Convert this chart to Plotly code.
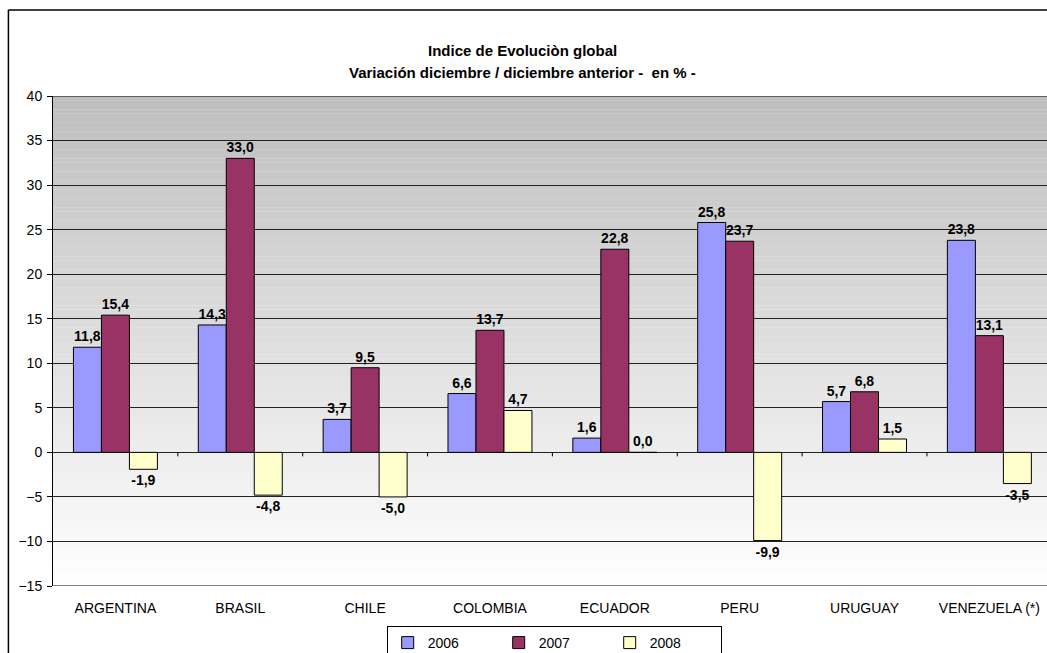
import plotly.graph_objects as go

# Data
countries = ["ARGENTINA", "BRASIL", "CHILE", "COLOMBIA", "ECUADOR", "PERU", "URUGUAY", "VENEZUELA (*)"]
v2006 = [11.8, 14.3, 3.7, 6.6, 1.6, 25.8, 5.7, 23.8]
v2007 = [15.4, 33.0, 9.5, 13.7, 22.8, 23.7, 6.8, 13.1]
v2008 = [-1.9, -4.8, -5.0, 4.7, 0.0, -9.9, 1.5, -3.5]
years = ["2006", "2007", "2008"]
y_ticks = [-15, -10, -5, 0, 5, 10, 15, 20, 25, 30, 35, 40]

series = [v2006, v2007, v2008]
colors = ["#9999FF", "#993366", "#FFFFCC"]
FONT = "Liberation Sans, Arial, sans-serif"

W, H = 1047, 653
L, T, B = 52.6, 96, 67
plot_w = W - L
plot_h = H - T - B
cat_w = 124.9
x_max = -0.5 + plot_w / cat_w
y_min, y_max = -15, 40


def fmt(v):
    return f"{v:.1f}".replace(".", ",")


fig = go.Figure()
for name, vals, col in zip(years, series, colors):
    fig.add_trace(go.Bar(
        x=list(range(len(countries))), y=vals, name=name,
        marker=dict(color=col, line=dict(color="black", width=1)),
        text=[fmt(v) for v in vals], textposition="outside",
        textfont=dict(family=FONT, size=14, color="black", weight="bold"),
        cliponaxis=False,
    ))

shapes = []
# vertical gray gradient behind the plot area
n = 110
step = (y_max - y_min) / n
for k in range(n):
    y0 = y_min + k * step
    frac = (k + 0.5) / n  # 0 at bottom, 1 at top
    g = round(255 - 65 * frac)
    shapes.append(dict(type="rect", xref="paper", yref="y", x0=0, x1=1,
                       y0=y0, y1=y0 + step + 0.02, line=dict(width=0),
                       fillcolor=f"rgb({g},{g},{g})", layer="below"))
# frame lines at top and bottom of the plot area
for yv in (y_min, y_max):
    shapes.append(dict(type="line", xref="paper", yref="y", x0=0, x1=1,
                       y0=yv, y1=yv, line=dict(color="black", width=1)))
# small category ticks on the zero line
for k in range(len(countries) - 1):
    shapes.append(dict(type="line", xref="x", yref="y", x0=k + 0.5, x1=k + 0.5,
                       ysizemode="pixel", yanchor=0, y0=0, y1=-4,
                       line=dict(color="black", width=1)))
# outer chart frame (top and left edges)
fx = (8 - L) / plot_w
fy_top = (H - B - 10) / plot_h
shapes.append(dict(type="line", xref="paper", yref="paper", x0=fx, x1=1.02,
                   y0=fy_top, y1=fy_top, line=dict(color="black", width=1.5)))
shapes.append(dict(type="line", xref="paper", yref="paper", x0=fx, x1=fx,
                   y0=fy_top, y1=-0.3, line=dict(color="black", width=1.5)))

title_x = (522 - L) / plot_w
annotations = [
    dict(text="Indice de Evoluciòn global", xref="paper", yref="paper",
         x=title_x, y=(H - B - 40) / plot_h, showarrow=False,
         font=dict(family=FONT, size=15, color="black", weight="bold")),
    dict(text="Variación diciembre / diciembre anterior -  en % -", xref="paper", yref="paper",
         x=title_x, y=(H - B - 62) / plot_h, showarrow=False,
         font=dict(family=FONT, size=15, color="black", weight="bold")),
]

fig.update_layout(
    width=W, height=H, autosize=False,
    margin=dict(l=L, r=0, t=T, b=B, pad=0, autoexpand=False),
    paper_bgcolor="white", plot_bgcolor="rgba(0,0,0,0)",
    barmode="group", bargap=1 - 84 / cat_w, bargroupgap=0,
    font=dict(family=FONT, size=14, color="black"),
    shapes=shapes, annotations=annotations,
    showlegend=True,
    legend=dict(orientation="h", x=(554 - L) / plot_w, xanchor="center",
                y=(H - B - 626) / plot_h, yanchor="top",
                bordercolor="black", borderwidth=1, bgcolor="white",
                font=dict(family=FONT, size=14, color="black"),
                entrywidth=66, entrywidthmode="pixels", itemwidth=30),
    xaxis=dict(range=[-0.5, x_max], tickmode="array",
               tickvals=list(range(len(countries))), ticktext=countries,
               showgrid=False, zeroline=False, showline=False, ticks="",
               ticklabelstandoff=12, fixedrange=True),
    yaxis=dict(range=[y_min, y_max], tickmode="array", tickvals=y_ticks,
               showgrid=True, gridcolor="#222", gridwidth=1,
               zeroline=True, zerolinecolor="#222", zerolinewidth=1,
               showline=True, linecolor="black", linewidth=1,
               ticks="outside", ticklen=5, tickcolor="black",
               ticklabelstandoff=2, fixedrange=True),
)

fig.write_html("out.html")
